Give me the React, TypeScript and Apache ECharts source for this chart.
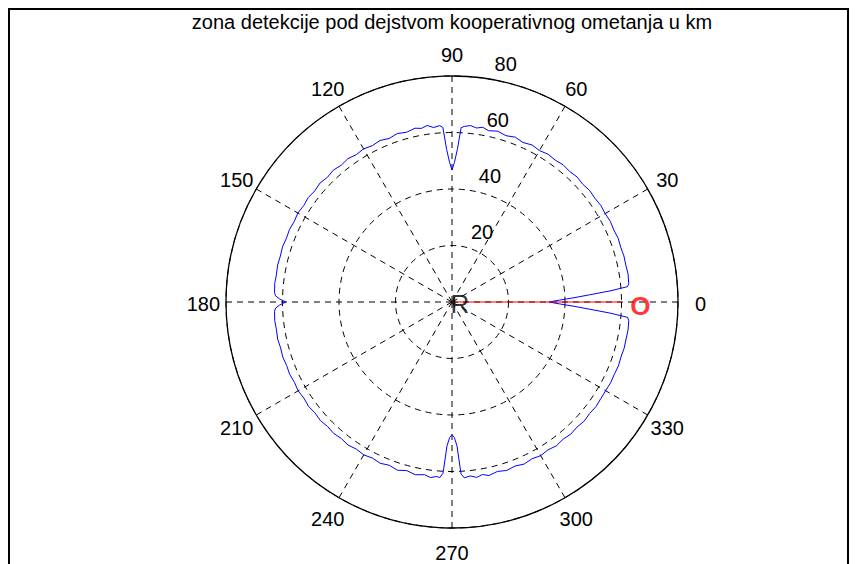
import React, { useEffect, useRef } from 'react';
import * as echarts from 'echarts';

const titleText = 'zona detekcije pod dejstvom kooperativnog ometanja u km';
const fontFamily = '"Liberation Sans", Arial, Helvetica, sans-serif';

// Polar grid: angles in degrees, range in km
const angleMin = 0;
const angleMax = 360;
const angleStep = 30;
const rangeMax = 80;
const rangeStep = 20;
const rangeLabelAngle = 82;
const angleTickLabels = [0, 30, 60, 90, 120, 150, 180, 210, 240, 270, 300, 330];
// angle labels sit centred on a ring 10% outside the outer circle
const angleLabelRadius = rangeMax * 1.1;

// Detection zone boundary under cooperative jamming
const azimuthDeg = [
  0, 1, 2, 3, 4, 5, 6, 9, 12, 15, 18, 21, 24, 27, 30, 33, 36, 39, 42, 45, 48, 51, 54, 57, 60,
  63, 66, 69, 72, 75, 78, 80, 82, 84, 86, 87, 88, 89, 90, 91, 92, 93, 94, 96, 98, 100, 102, 105,
  108, 111, 114, 117, 120, 123, 126, 129, 132, 135, 138, 141, 144, 147, 150, 153, 156, 159, 162,
  165, 168, 171, 174, 177, 178, 179, 180, 181, 182, 183, 186, 189, 192, 195, 198, 201, 204, 207,
  210, 213, 216, 219, 222, 225, 228, 231, 234, 237, 240, 243, 246, 249, 252, 255, 258, 261, 263,
  265, 266, 267, 268, 269, 270, 271, 272, 273, 274, 276, 278, 280, 282, 285, 288, 291, 294, 297,
  300, 303, 306, 309, 312, 315, 318, 321, 324, 327, 330, 333, 336, 339, 342, 345, 348, 351, 354,
  355, 356, 357, 358, 359, 360,
];
const rangeKm = [
  34.3, 38.0, 43.2, 48.8, 56.0, 62.4, 62.9, 63.1, 62.9, 63.0, 62.8, 63.0, 62.7, 62.9, 62.6, 62.8,
  62.5, 62.7, 62.3, 62.6, 62.2, 62.5, 62.1, 62.4, 61.9, 62.4, 61.8, 62.5, 61.9, 62.6, 62.0, 62.8,
  62.2, 62.8, 62.3, 61.8, 54.0, 49.4, 46.7, 49.4, 54.0, 61.9, 62.6, 62.1, 63.1, 62.4, 62.9, 62.2,
  62.7, 62.0, 62.6, 62.1, 62.6, 62.2, 62.7, 62.3, 62.8, 62.4, 62.9, 62.5, 62.9, 62.6, 63.0, 62.7,
  63.0, 62.8, 63.1, 62.9, 63.1, 62.9, 63.1, 62.9, 62.5, 61.0, 58.8, 61.0, 62.5, 62.9, 63.1, 62.9,
  63.1, 62.8, 63.0, 62.7, 62.9, 62.6, 62.9, 62.5, 62.8, 62.4, 62.7, 62.3, 62.6, 62.2, 62.6, 62.1,
  62.5, 62.0, 62.5, 61.9, 62.6, 61.8, 62.5, 61.9, 62.6, 62.0, 62.3, 60.7, 51.0, 48.0, 47.0, 48.0,
  51.0, 60.9, 62.4, 61.9, 62.7, 62.0, 62.8, 62.1, 62.7, 62.2, 62.8, 62.3, 62.8, 62.4, 62.9, 62.5,
  62.9, 62.6, 63.0, 62.7, 63.0, 62.8, 62.8, 63.0, 62.9, 63.1, 62.9, 63.1, 63.0, 63.1, 62.9, 62.4,
  56.0, 48.8, 43.2, 38.0, 34.3,
];

// Line of sight from the radar R towards the jammer O: [range, azimuth]
const sightRange = [0, 60];
const sightAzimuth = [0, 0];

// Point markers: [range, azimuth]
const markerNames = ['R', 'O'];
const markerRange = [0, 66.7];
const markerAzimuth = [0, 358.8];
const markerColors = ['#000000', '#ff0000'];
const markerWeights = ['normal', 'bold'];

const App: React.FC = () => {
  const ref = useRef<HTMLDivElement>(null);

  useEffect(() => {
    if (!ref.current) return;
    const chart = echarts.init(ref.current, undefined, { renderer: 'svg' });
    const center = [452, 302];
    const radius = 226;
    const dashed = { color: '#000', width: 1, type: [6, 5] as number[] };

    chart.setOption({
      animation: false,
      backgroundColor: '#ffffff',
      polar: [
        { center, radius },
        { center, radius },
      ],
      angleAxis: [
        {
          polarIndex: 0,
          type: 'value',
          min: angleMin,
          max: angleMax,
          interval: angleStep,
          startAngle: 0,
          clockwise: false,
          axisLine: { show: true, lineStyle: { color: '#000', width: 1.3 } },
          axisTick: { show: false },
          axisLabel: { show: false },
          splitLine: { show: true, lineStyle: dashed },
        },
        {
          polarIndex: 1,
          type: 'value',
          min: angleMin,
          max: angleMax,
          startAngle: rangeLabelAngle,
          clockwise: false,
          show: false,
        },
      ],
      radiusAxis: [
        {
          polarIndex: 0,
          type: 'value',
          min: 0,
          max: rangeMax,
          interval: rangeStep,
          axisLine: { show: false },
          axisTick: { show: false },
          axisLabel: { show: false },
          splitLine: { show: true, lineStyle: dashed },
        },
        {
          polarIndex: 1,
          type: 'value',
          min: 0,
          max: rangeMax,
          interval: rangeStep,
          axisLine: { show: false },
          axisTick: { show: false },
          splitLine: { show: false },
          axisLabel: {
            show: true,
            showMinLabel: false,
            margin: 0,
            align: 'left',
            verticalAlign: 'bottom',
            color: '#000',
            fontSize: 20,
            fontFamily,
            padding: [0, 0, 4, 0],
            formatter: (v: number) => '  ' + v,
          },
        },
      ],
      graphic: [
        {
          type: 'rect',
          shape: { x: 9, y: 9, width: 839, height: 620 },
          style: { fill: 'none', stroke: '#000', lineWidth: 2 },
          silent: true,
        },
        {
          type: 'text',
          x: 452,
          y: 22,
          style: {
            text: titleText,
            fill: '#000',
            font: `20px ${fontFamily}`,
            textAlign: 'center',
            textVerticalAlign: 'middle',
          },
          silent: true,
        },
      ],
      series: [
        {
          type: 'line',
          coordinateSystem: 'polar',
          polarIndex: 0,
          data: sightRange.map((r, i) => [r, sightAzimuth[i]]),
          symbol: 'none',
          lineStyle: { color: '#ff0000', width: 1 },
          z: 3,
        },
        {
          type: 'line',
          coordinateSystem: 'polar',
          polarIndex: 0,
          data: rangeKm.map((r, i) => [r, azimuthDeg[i]]),
          symbol: 'none',
          lineStyle: { color: '#0000ff', width: 1 },
          z: 2,
        },
        {
          // azimuth tick labels
          type: 'scatter',
          coordinateSystem: 'polar',
          polarIndex: 0,
          symbolSize: 0,
          clip: false,
          itemStyle: { color: '#000000' },
          data: angleTickLabels.map((a) => ({ name: String(a), value: [angleLabelRadius, a] })),
          label: {
            show: true,
            position: [0, 0],
            align: 'center',
            verticalAlign: 'middle',
            offset: [0, 2],
            formatter: (p: any) => p.name,
            color: '#000000',
            opacity: 1,
            textBorderWidth: 0,
            fontWeight: 'normal',
            fontSize: 20,
            fontFamily,
          },
          z: 4,
        },
        {
          type: 'scatter',
          coordinateSystem: 'polar',
          polarIndex: 0,
          symbolSize: 0,
          clip: false,
          data: markerNames.map((n, i) => ({
            name: n,
            value: [markerRange[i], markerAzimuth[i]],
            label: {
              color: markerColors[i],
              fontWeight: markerWeights[i],
              offset: i === 0 ? [8, 2] : [0, 0],
            },
          })),
          label: {
            show: true,
            position: [0, 0],
            align: 'center',
            verticalAlign: 'middle',
            formatter: (p: any) => p.name,
            fontSize: 26,
            fontFamily,
          },
          z: 4,
        },
      ],
    });

    return () => chart.dispose();
  }, []);

  return (
    <div
      ref={ref}
      style={{ position: 'absolute', left: 0, top: 0, width: 856, height: 564 }}
    />
  );
};

export default App;
